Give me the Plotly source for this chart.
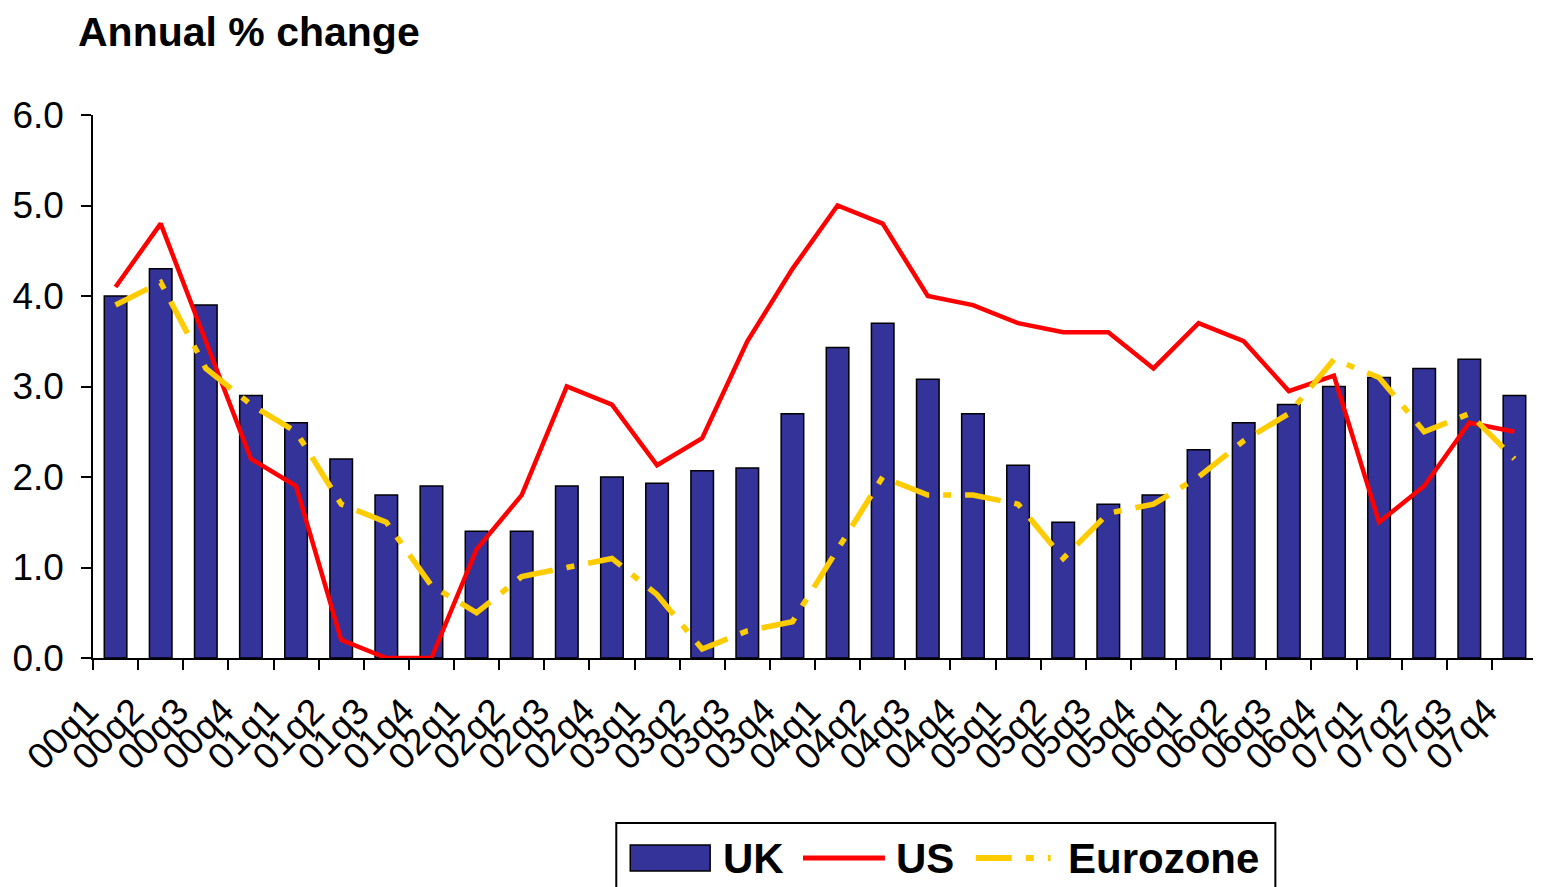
import plotly.graph_objects as go

quarters = ['00q1', '00q2', '00q3', '00q4', '01q1', '01q2', '01q3', '01q4',
            '02q1', '02q2', '02q3', '02q4', '03q1', '03q2', '03q3', '03q4',
            '04q1', '04q2', '04q3', '04q4', '05q1', '05q2', '05q3', '05q4',
            '06q1', '06q2', '06q3', '06q4', '07q1', '07q2', '07q3', '07q4']

uk = [4.0, 4.3, 3.9, 2.9, 2.6, 2.2, 1.8, 1.9,
      1.4, 1.4, 1.9, 2.0, 1.93, 2.07, 2.1, 2.7,
      3.43, 3.7, 3.08, 2.7, 2.13, 1.5, 1.7, 1.8,
      2.3, 2.6, 2.8, 3.0, 3.1, 3.2, 3.3, 2.9]

us = [4.1, 4.8, 3.5, 2.2, 1.9, 0.2, 0.0, 0.0,
      1.2, 1.8, 3.0, 2.8, 2.13, 2.43, 3.5, 4.3,
      5.0, 4.8, 4.0, 3.9, 3.7, 3.6, 3.6, 3.2,
      3.7, 3.5, 2.95, 3.12, 1.5, 1.9, 2.6, 2.5]

eurozone = [3.9, 4.15, 3.2, 2.8, 2.5, 1.7, 1.5, 0.8,
            0.5, 0.9, 1.0, 1.1, 0.7, 0.1, 0.3, 0.4,
            1.2, 2.0, 1.8, 1.8, 1.7, 1.1, 1.6, 1.7,
            2.0, 2.4, 2.7, 3.3, 3.1, 2.5, 2.7, 2.2]

y_ticks = [0, 1, 2, 3, 4, 5, 6]

FONT = 'Arial, Liberation Sans, sans-serif'
BAR_COL = '#333399'
US_COL = '#ff0000'
EZ_COL = '#ffcc00'
EZ_DASH = '36px,14px,8px,14px'

# the page puts the figure 8px in from the top-left corner
OFF = 8
FIG_W, FIG_H = 1541 - OFF, 887 - OFF

fig = go.Figure()

fig.add_trace(go.Bar(x=quarters, y=uk, name='UK',
                     marker=dict(color=BAR_COL, line=dict(color='black', width=1.5)),
                     showlegend=False))
fig.add_trace(go.Scatter(x=quarters, y=us, name='US', mode='lines',
                         line=dict(color=US_COL, width=4.5),
                         showlegend=False))
fig.add_trace(go.Scatter(x=quarters, y=eurozone, name='Eurozone', mode='lines',
                         line=dict(color=EZ_COL, width=5.5, dash=EZ_DASH),
                         showlegend=False))

# plot area in screen pixels
L, T, W, H = 91, 115, 1446, 543


def px(x):
    return (x - L) / W


def py(y):
    return (T + H - y) / H


# hand-built legend so the keys can be as wide as in the original
shapes = [
    dict(type='rect', xref='paper', yref='paper',
         x0=px(615), x1=px(1275), y0=py(905), y1=py(823),
         line=dict(color='black', width=2), fillcolor='white', layer='below'),
    dict(type='rect', xref='paper', yref='paper',
         x0=px(629), x1=px(709), y0=py(871), y1=py(845),
         line=dict(color='black', width=1.5), fillcolor=BAR_COL),
    dict(type='line', xref='paper', yref='paper',
         x0=px(802), x1=px(884), y0=py(858), y1=py(858),
         line=dict(color=US_COL, width=5)),
    dict(type='line', xref='paper', yref='paper',
         x0=px(975), x1=px(1050), y0=py(858), y1=py(858),
         line=dict(color=EZ_COL, width=6, dash=EZ_DASH)),
]

annotations = [
    dict(text='<b>UK</b>', x=px(720), y=py(858)),
    dict(text='<b>US</b>', x=px(893), y=py(858)),
    dict(text='<b>Eurozone</b>', x=px(1065), y=py(858)),
]
for a in annotations:
    a.update(xref='paper', yref='paper', xanchor='left', yanchor='middle',
             showarrow=False, font=dict(family=FONT, size=42, color='black'))

fig.update_layout(
    width=FIG_W, height=FIG_H,
    margin=dict(l=L - OFF, r=FIG_W - (L - OFF) - W, t=T - OFF,
                b=FIG_H - (T - OFF) - H),
    paper_bgcolor='white', plot_bgcolor='white',
    bargap=0.5,
    showlegend=False,
    title=dict(text='<b>Annual % change</b>', x=(78 - OFF) / FIG_W,
               xanchor='left', y=1 - (32 - OFF) / FIG_H, yanchor='middle',
               font=dict(family=FONT, size=41, color='black')),
    shapes=shapes,
    annotations=annotations,
    xaxis=dict(type='category', showgrid=False, showline=True,
               linecolor='black', linewidth=1.5,
               ticks='outside', tickson='boundaries', ticklen=10,
               tickcolor='black', tickwidth=1.5,
               tickangle=-45, ticklabelshift=-28, ticklabelstandoff=15,
               tickfont=dict(family=FONT, size=37, color='black')),
    yaxis=dict(range=[0, 6], tickvals=y_ticks,
               ticktext=[f'{v:.1f}' for v in y_ticks],
               showgrid=False, zeroline=False, showline=True,
               linecolor='black', linewidth=1.5,
               ticks='outside', ticklen=10, tickcolor='black', tickwidth=1.5,
               ticklabelstandoff=10,
               tickfont=dict(family=FONT, size=37, color='black')),
)

fig.write_html('out.html')
